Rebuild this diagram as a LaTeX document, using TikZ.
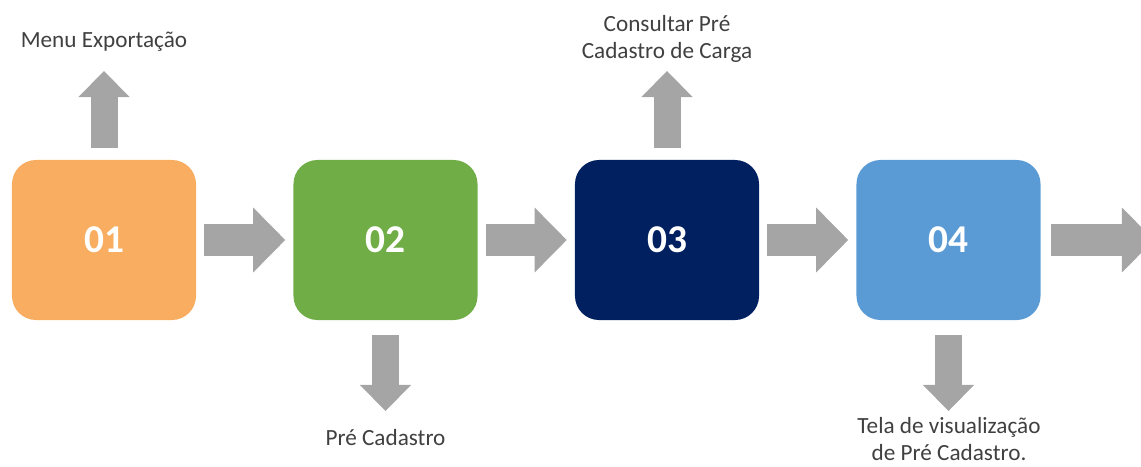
\documentclass[tikz,border=0pt]{standalone}
\usepackage{fontspec}
\setmainfont{Carlito}
\usetikzlibrary{arrows.meta,positioning}

\definecolor{laranja}{HTML}{F8AD61}
\definecolor{verde}{HTML}{70AD47}
\definecolor{marinho}{HTML}{002060}
\definecolor{azul}{HTML}{5B9BD5}
\definecolor{setacinza}{HTML}{A5A5A5}
\definecolor{textocinza}{HTML}{404040}

\tikzset{
  etapa/.style={rectangle, rounded corners=0.6cm, minimum width=4.6cm, minimum height=4cm,
    inner sep=0pt, text=white, font=\fontsize{28}{32}\selectfont\bfseries},
  rotulo/.style={align=center, inner sep=0pt, text=textocinza, font=\fontsize{16.5}{19}\selectfont},
  seta/.style={draw=setacinza, line width=22.8pt,
    -{Triangle[length=22.8pt, width=46.2pt, line width=0pt]}},
  setav/.style={draw=setacinza, line width=19.2pt,
    -{Triangle[length=18.5pt, width=36.3pt, line width=0pt]}},
}

\begin{document}
\begin{tikzpicture}[x=0.025cm, y=-0.025cm]
	\clip (0,0) rectangle (1141,466);
	% etapas
	\node[etapa, fill=laranja] (e1) at (104,240) {01};
	\node[etapa, fill=verde] (e2) at (385.5,240) {02};
	\node[etapa, fill=marinho] (e3) at (667,240) {03};
	\node[etapa, fill=azul] (e4) at (948.5,240) {04};
	% textos
	\node[rotulo] (menu) at (104,42) {Menu Exportação};
	\node[rotulo] (consulta) at (667,39) {Consultar Pré\\Cadastro de Carga};
	\node[rotulo] (precad) at (385.5,438) {Pré Cadastro};
	\node[rotulo] (tela) at (949,439) {Tela de visualização\\de Pré Cadastro.};
	% pontas das setas
	\coordinate (p1) at (104,71);
	\coordinate (p2) at (385.5,411);
	\coordinate (p3) at (667,71);
	\coordinate (p4) at (948.5,411);
	\coordinate (saida) at (1154,240);
	% setas
	\draw[seta, shorten <=5.7pt, shorten >=5.7pt] (e1) -- (e2);
	\draw[seta, shorten <=5.7pt, shorten >=5.7pt] (e2) -- (e3);
	\draw[seta, shorten <=5.7pt, shorten >=5.7pt] (e3) -- (e4);
	\draw[seta, shorten <=7.1pt] (e4) -- (saida);
	\draw[setav, shorten <=8.5pt] (e1) -- (p1);
	\draw[setav, shorten <=10.7pt] (e2) -- (p2);
	\draw[setav, shorten <=8.5pt] (e3) -- (p3);
	\draw[setav, shorten <=10.7pt] (e4) -- (p4);
\end{tikzpicture}
\end{document}
